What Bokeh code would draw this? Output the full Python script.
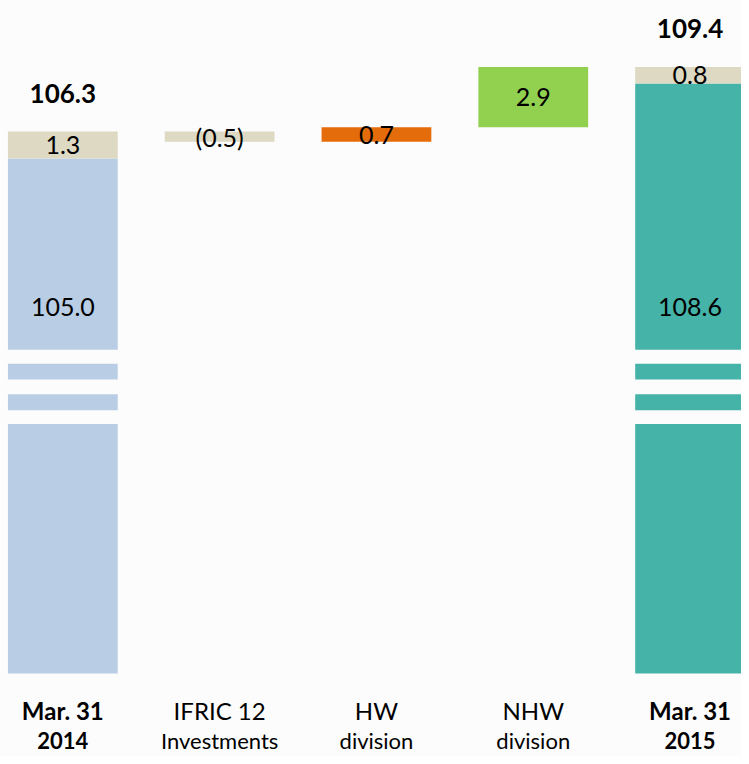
from bokeh.plotting import figure
from bokeh.models import Range1d, ColumnDataSource
from bokeh.core.properties import value
from bokeh.embed import file_html
from bokeh.resources import INLINE

# ---------------- data ----------------
cat_line1 = ["Mar. 31", "IFRIC 12", "HW", "NHW", "Mar. 31"]
cat_line2 = ["2014", "Investments", "division", "division", "2015"]
cat_bold = [True, False, False, False, True]

start_base = 105.0      # Mar. 31 2014, main part
start_other = 1.3       # Mar. 31 2014, IFRIC 12 part
changes = [-0.5, 0.7, 2.9]   # IFRIC 12 Investments, HW division, NHW division
end_base = 108.6        # Mar. 31 2015, main part
end_other = 0.8         # Mar. 31 2015, IFRIC 12 part
totals = [106.3, 109.4]

# ---------------- style / layout ----------------
W, H = 741, 756
BG = "#FCFCFC"
C_BLUE = "#B9CDE5"
C_TAN = "#DDD9C3"
C_ORANGE = "#E46C0A"
C_GREEN = "#92D050"
C_TEAL = "#45B3A8"
FONT = "Lato"

REF_H = 764                   # layout grid height
PX = 21.0                     # grid pixels per unit
Y1 = 112.6
Y0 = Y1 - REF_H / PX          # visible value range (broken axis)
FLOOR = Y1 - 680 / PX         # where the (broken) bars start

def fy(px):                   # grid offset from the top -> value
    return Y1 - px / PX

BAR_W = 0.70
xs = list(range(len(cat_line1)))

p = figure(width=W, height=H, output_backend="svg", toolbar_location=None,
           x_range=Range1d(-0.3975, 4.328), y_range=Range1d(Y0, Y1),
           min_border=0, background_fill_color=BG, border_fill_color=BG,
           outline_line_color=None)
p.axis.visible = False
p.grid.visible = False

# ---- start bar ----
p.vbar(x=[xs[0]], bottom=[FLOOR], top=[start_base], width=BAR_W,
       fill_color=C_BLUE, line_color=None)
p.vbar(x=[xs[0]], bottom=[start_base], top=[start_base + start_other],
       width=BAR_W, fill_color=C_TAN, line_color=None)

# ---- floating changes ----
change_colors = [C_TAN, C_ORANGE, C_GREEN]
running = start_base + start_other
fb, ft, fl, fx = [], [], [], []
for i, c in enumerate(changes):
    lo, hi = min(running, running + c), max(running, running + c)
    fb.append(lo); ft.append(hi); fx.append(xs[i + 1])
    fl.append(f"({abs(c):.1f})" if c < 0 else f"{c:.1f}")
    running += c
fsrc = ColumnDataSource(dict(x=fx, bottom=fb, top=ft, color=change_colors,
                             label=fl, mid=[(a + b) / 2 for a, b in zip(fb, ft)]))
p.vbar(x="x", bottom="bottom", top="top", width=BAR_W, fill_color="color",
       line_color=None, source=fsrc)

# ---- end bar ----
p.vbar(x=[xs[4]], bottom=[FLOOR], top=[end_base], width=BAR_W,
       fill_color=C_TEAL, line_color=None)
p.vbar(x=[xs[4]], bottom=[end_base], top=[end_base + end_other],
       width=BAR_W, fill_color=C_TAN, line_color=None)

# ---- axis break bands ----
for a, b in [(353, 367), (383, 398), (414, 428)]:
    p.vbar(x=[xs[0], xs[4]], bottom=[fy(b)] * 2, top=[fy(a)] * 2,
           width=BAR_W + 0.02, fill_color=BG, line_color=None)

# ---- value labels ----
lab_x = [xs[0], xs[0], xs[4], xs[4]]
lab_y = [start_base + start_other / 2, fy(310),
         end_base + end_other / 2, fy(310)]
lab_t = [f"{start_other:.1f}", f"{start_base:.1f}",
         f"{end_other:.1f}", f"{end_base:.1f}"]
p.text(x=lab_x, y=lab_y, text=lab_t, text_align="center",
       text_baseline="middle", text_font=value(FONT),
       text_font_size="25px", text_color="black")
p.text(x="x", y="mid", text="label", source=fsrc, text_align="center",
       text_baseline="middle", text_font=value(FONT),
       text_font_size="25px", text_color="black")

# ---- totals ----
p.text(x=[xs[0], xs[4]], y=totals, text=[f"{t:.1f}" for t in totals],
       y_offset=-38, text_align="center", text_baseline="middle",
       text_font=value(FONT), text_font_size="26px",
       text_font_style="bold", text_color="black")

# ---- category labels ----
csrc = ColumnDataSource(dict(
    x=xs, l1=cat_line1, l2=cat_line2,
    y1=[fy(718)] * len(xs), y2=[fy(748)] * len(xs),
    style=["bold" if b else "normal" for b in cat_bold]))
p.text(x="x", y="y1", text="l1", source=csrc, text_align="center",
       text_baseline="middle", text_font=value(FONT), text_font_size="24px",
       text_font_style="style", text_color="black")
p.text(x="x", y="y2", text="l2", source=csrc, text_align="center",
       text_baseline="middle", text_font=value(FONT), text_font_size="22px",
       text_font_style="style", text_color="black")

open("out.html", "w").write(file_html(p, INLINE))
